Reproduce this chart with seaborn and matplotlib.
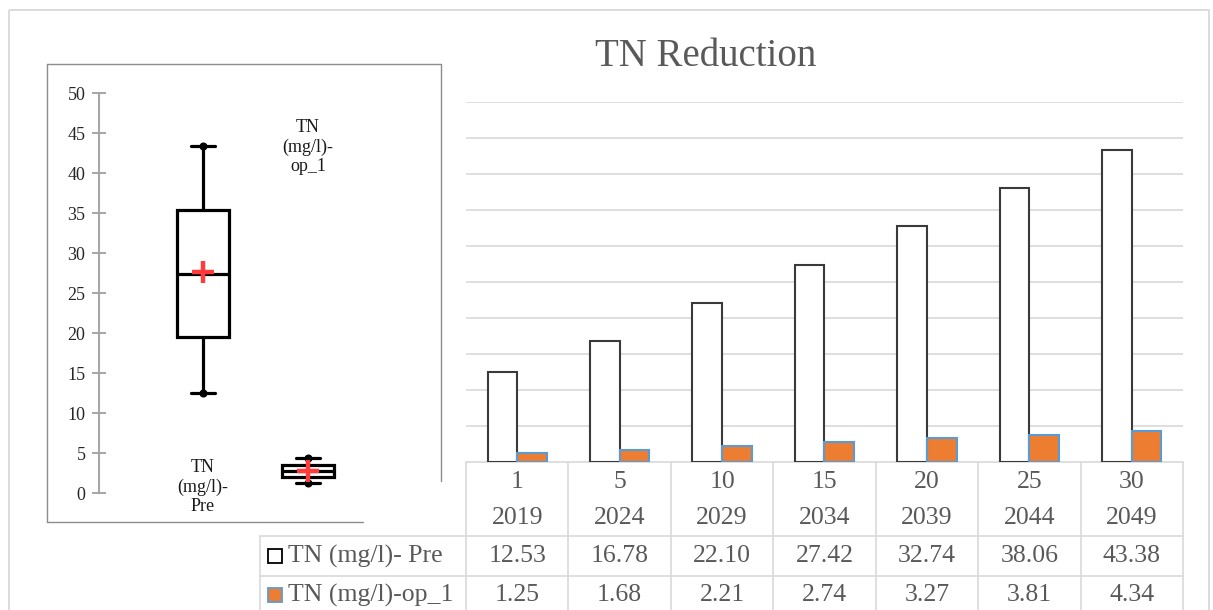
import numpy as np
import pandas as pd
import matplotlib
matplotlib.use("Agg")
import matplotlib.pyplot as plt
from matplotlib.patches import Rectangle
import seaborn as sns

# ---- data -------------------------------------------------------------
periods = ["1", "5", "10", "15", "20", "25", "30"]
years = ["2019", "2024", "2029", "2034", "2039", "2044", "2049"]
tn_pre = [12.53, 16.78, 22.10, 27.42, 32.74, 38.06, 43.38]
tn_op1 = [1.25, 1.68, 2.21, 2.74, 3.27, 3.81, 4.34]
series_names = ["TN (mg/l)- Pre", "TN (mg/l)-op_1"]
box_labels = ["TN\n(mg/l)-\nPre", "TN\n(mg/l)-\nop_1"]
chart_title = "TN Reduction"

# ---- styling ----------------------------------------------------------
W, H = 1213, 610
sns.set_theme(style="white")
plt.rcParams["font.family"] = ["Liberation Serif", "DejaVu Serif"]

TEXT = "#595959"
GRID = "#d9d9d9"
ORANGE = "#ED7D31"
BLUE = "#5B9BD5"
series_fill = ["white", ORANGE]
series_edge = ["#3a3a3a", BLUE]

fig = plt.figure(figsize=(W / 100, H / 100), dpi=100)
fig.patch.set_facecolor("white")


def px_rect(x0, y0, x1, y1):
    """Figure-fraction rectangle from pixel corners (origin top-left)."""
    return [x0 / W, 1 - y1 / H, (x1 - x0) / W, (y1 - y0) / H]


# Background layer in pixel coordinates: frames, title and data table
bg = fig.add_axes([0, 0, 1, 1])
bg.set_xlim(0, W)
bg.set_ylim(H, 0)
bg.axis("off")

# outer chart frame
bg.add_patch(Rectangle((9, 10), 1200, 620, fill=False, ec=GRID, lw=1.3))

# frame of the inset box plot (its lower-right corner is left open)
inset_c = "#8c8c8c"
bg.plot([47, 441], [64, 64], color=inset_c, lw=1.0)
bg.plot([47, 47], [64, 522], color=inset_c, lw=1.0)
bg.plot([441, 441], [64, 481], color=inset_c, lw=1.0)
bg.plot([47, 363], [522, 522], color=inset_c, lw=1.0)

# title of the bar chart
bg.text(706, 66, chart_title, fontsize=28, color=TEXT, ha="center", va="baseline")

# data table under the bars
tx0, tx1 = 466, 1183
cw = (tx1 - tx0) / len(periods)
lw_t = 1.2
bg.plot([tx0, tx1], [462, 462], color=GRID, lw=lw_t)
for yy in (536, 576):
    bg.plot([260, tx1], [yy, yy], color=GRID, lw=lw_t)
bg.plot([260, 260], [536, 612], color=GRID, lw=lw_t)
for i in range(len(periods) + 1):
    xx = tx0 + i * cw
    bg.plot([xx, xx], [462, 612], color=GRID, lw=lw_t)

fs_t = 18.5
for i, (p, yr, a, b) in enumerate(zip(periods, years, tn_pre, tn_op1)):
    cx = tx0 + (i + 0.5) * cw
    bg.text(cx, 482, p, fontsize=fs_t, color=TEXT, ha="center", va="center")
    bg.text(cx, 518, yr, fontsize=fs_t, color=TEXT, ha="center", va="center")
    bg.text(cx, 556, f"{a:.2f}", fontsize=fs_t, color=TEXT, ha="center", va="center")
    bg.text(cx, 595, f"{b:.2f}", fontsize=fs_t, color=TEXT, ha="center", va="center")

for j, (name, yy) in enumerate(zip(series_names, (556, 595))):
    bg.add_patch(Rectangle((268, yy - 7), 14, 14, fc=series_fill[j],
                           ec="black" if j == 0 else BLUE, lw=1.3))
    bg.text(288, yy, name, fontsize=fs_t, color=TEXT, ha="left", va="center")

# ---- clustered bars ----------------------------------------------------
ax_bar = fig.add_axes(px_rect(466, 102, 1183, 462))
ax_bar.set_facecolor("none")
df_bar = pd.DataFrame({
    "period": periods * 2,
    "series": [series_names[0]] * len(periods) + [series_names[1]] * len(periods),
    "value": tn_pre + tn_op1,
})
sns.barplot(data=df_bar, x="period", y="value", hue="series", order=periods,
            hue_order=series_names, palette=series_fill, saturation=1,
            width=0.58, gap=0, errorbar=None, legend=False, ax=ax_bar)
for k, cont in enumerate(ax_bar.containers):
    for bar in cont:
        bar.set_facecolor(series_fill[k])
        bar.set_edgecolor(series_edge[k])
        bar.set_linewidth(1.5)
        bar.set_zorder(3)
ax_bar.set_xlim(-0.5, 6.5)
ax_bar.set_ylim(0, 50)
ax_bar.set_yticks(np.arange(5, 55, 5))
ax_bar.grid(axis="y", color=GRID, lw=1.2)
ax_bar.grid(axis="x", visible=False)
ax_bar.set_axisbelow(True)
ax_bar.tick_params(length=0, labelleft=False, labelbottom=False)
ax_bar.set_xlabel("")
ax_bar.set_ylabel("")
for s in ax_bar.spines.values():
    s.set_visible(False)

# ---- inset box plot --------------------------------------------------
ax_box = fig.add_axes(px_rect(99, 93, 414, 493))
ax_box.set_facecolor("none")
df_box = pd.DataFrame({
    "series": [series_names[0]] * len(tn_pre) + [series_names[1]] * len(tn_op1),
    "value": tn_pre + tn_op1,
})
sns.boxplot(data=df_box, x="series", y="value", order=series_names,
            color="white", saturation=1, linecolor="black", linewidth=2.3,
            width=0.5, whis=(0, 100), ax=ax_box,
            capwidths=0.22,
            whiskerprops=dict(marker="o", markevery=[1], markersize=4.8,
                              markerfacecolor="black", markeredgecolor="black"),
            showmeans=True,
            meanprops=dict(marker="+", markersize=16, markeredgewidth=3.2,
                           markeredgecolor="#FF3B3B", zorder=10))
ax_box.set_xlim(-0.99, 2.01)
ax_box.set_ylim(0, 50)
ax_box.set_yticks(np.arange(0, 55, 5))
ax_box.set_xticks([])
ax_box.set_xlabel("")
ax_box.set_ylabel("")
for side in ("top", "right", "bottom"):
    ax_box.spines[side].set_visible(False)
ax_box.spines["left"].set_color("#A6A6A6")
ax_box.spines["left"].set_linewidth(1.5)
ax_box.tick_params(axis="y", direction="inout", length=9.5, width=1.4,
                   color="#A6A6A6", labelsize=13, labelcolor="#262626", pad=5,
                   left=True)
ax_box.text(0, 0.75, box_labels[0], ha="center", va="center", fontsize=13,
            color="#1a1a1a", linespacing=1.2)
ax_box.text(1, 43.25, box_labels[1], ha="center", va="center", fontsize=13,
            color="#1a1a1a", linespacing=1.2)

fig.savefig("out.png", dpi=100, facecolor="white")
